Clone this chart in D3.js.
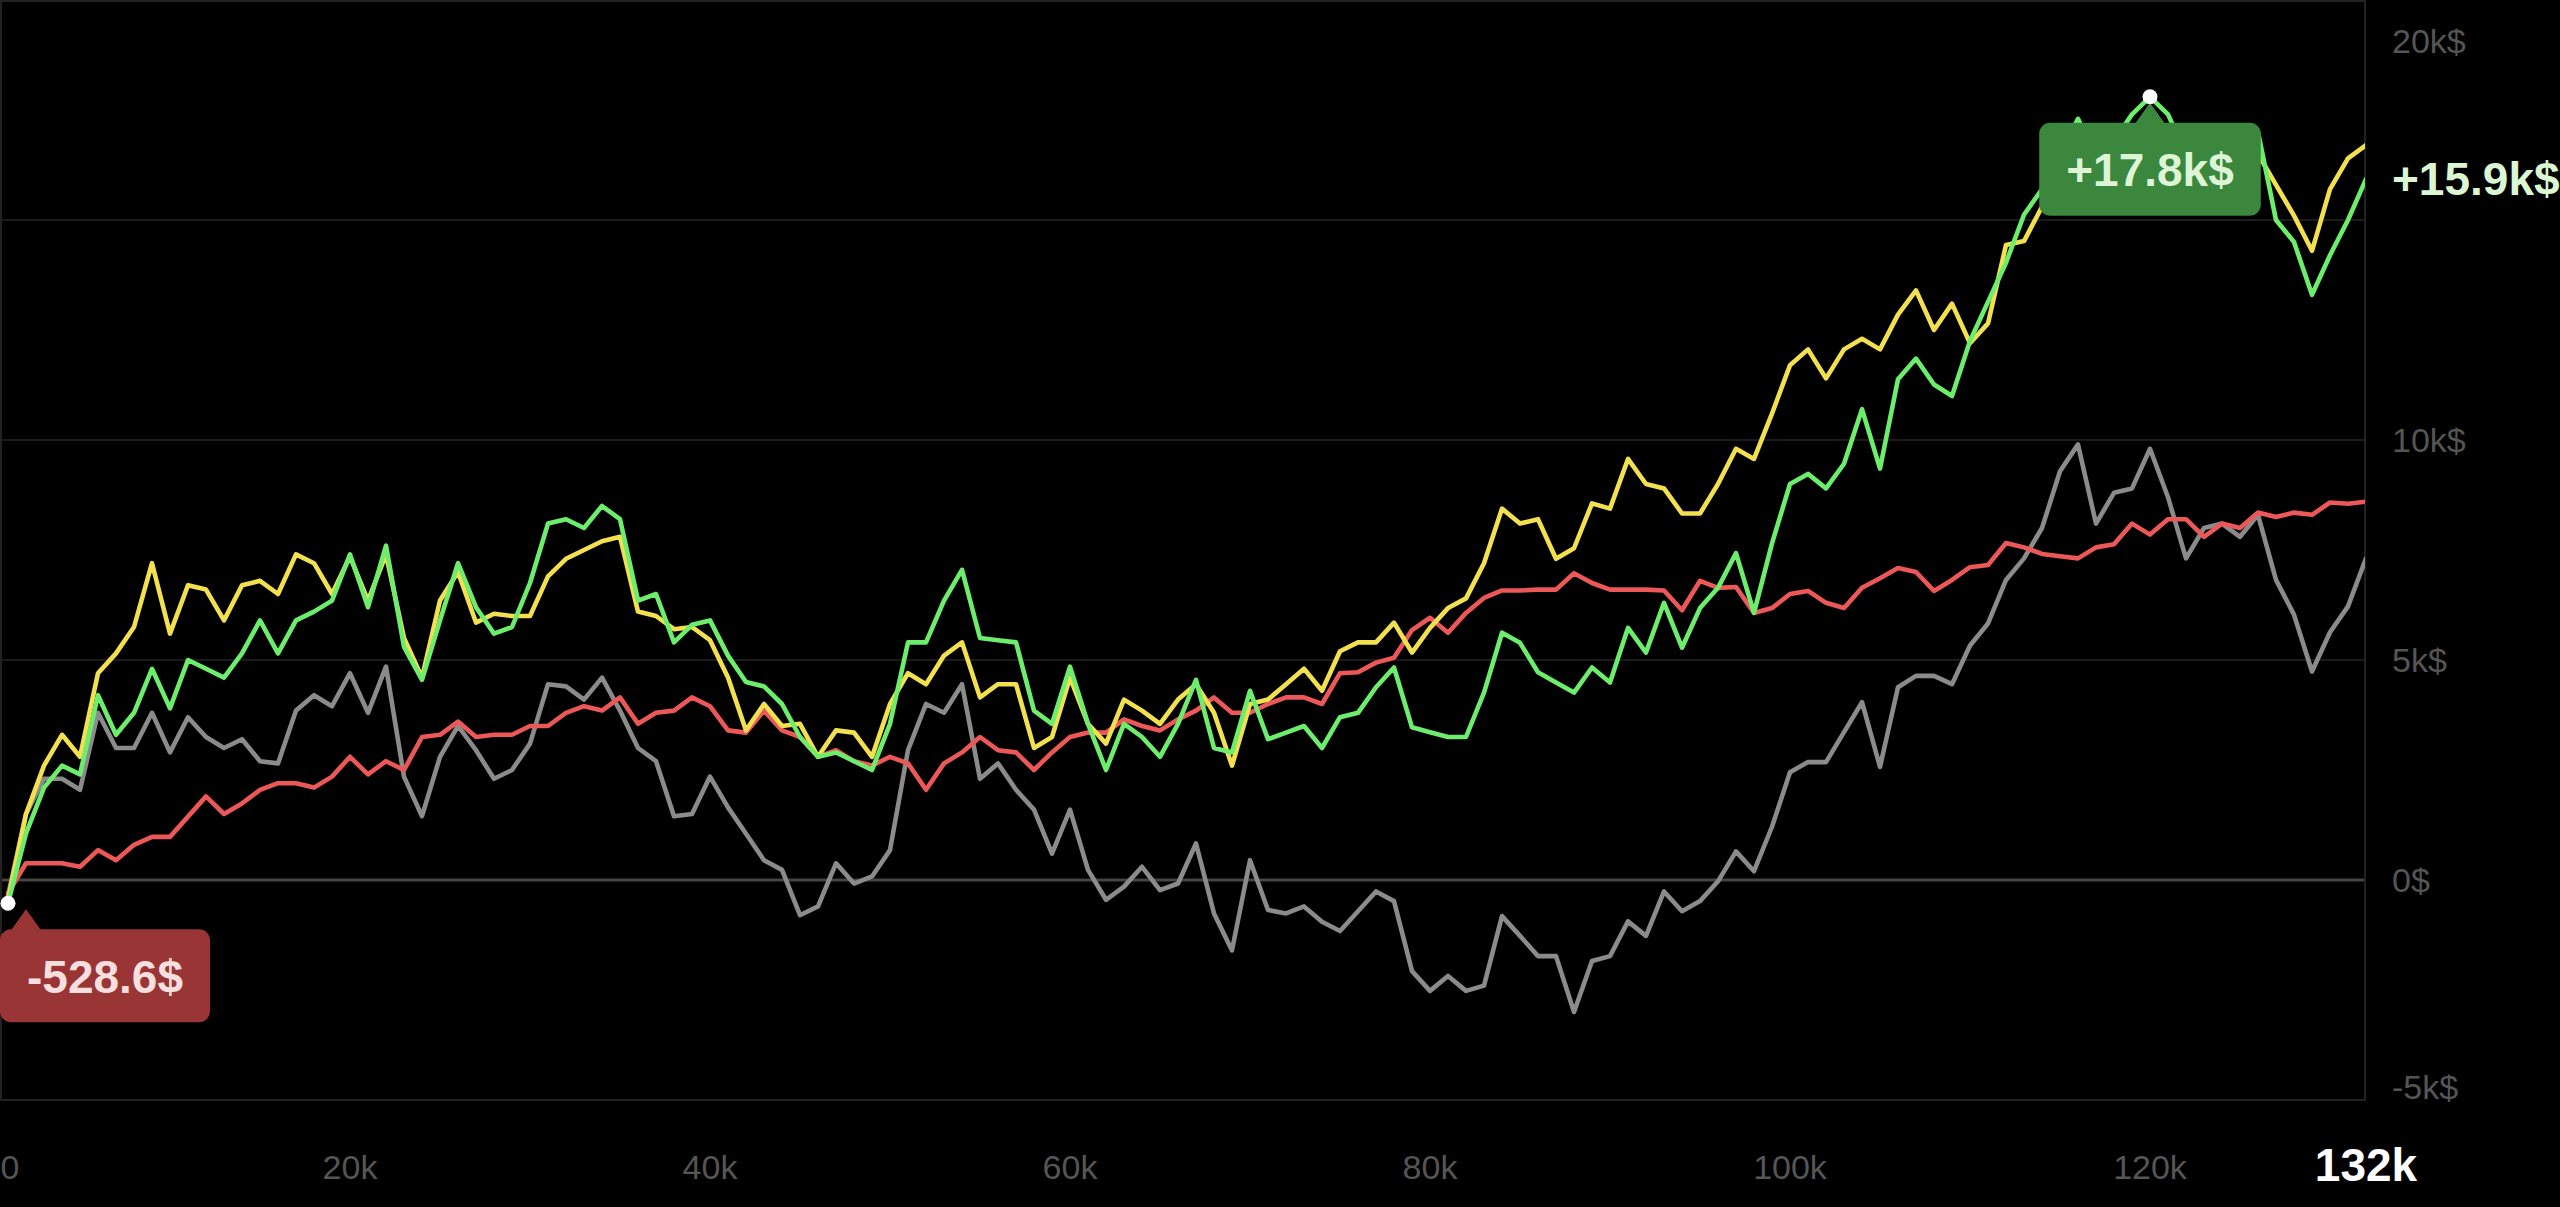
<!DOCTYPE html>
<html>
<head>
<meta charset="utf-8">
<style>
  html, body { margin: 0; padding: 0; background: #000; }
  svg { display: block; }
  text { font-family: "Liberation Sans", Arial, sans-serif; }
</style>
</head>
<body>
<div id="graf"></div>
<script src="https://cdn.jsdelivr.net/npm/d3@7"></script>
<script>
// ticks de los ejes
const xTicks = [0, 20000, 40000, 60000, 80000, 100000, 120000]
const yTicks = [-5, 0, 5, 10, 15, 20] // k$
const xFin = 132000
const paso = 1000 // un punto cada 1k

// PnL acumulado en k$, un valor por paso (1k, 2k, ... 132k)
const verde = [
  -0.5286, 1.06, 2.1, 2.6, 2.4, 4.2, 3.3, 3.8, 4.8, 3.9,
  5.0, 4.8, 4.6, 5.15, 5.9, 5.15, 5.9, 6.1, 6.35, 7.4,
  6.2, 7.6, 5.3, 4.55, 5.9, 7.2, 6.2, 5.6, 5.75, 6.75,
  8.1, 8.2, 8.0, 8.5, 8.2, 6.35, 6.5, 5.4, 5.8, 5.9,
  5.1, 4.5, 4.4, 4.0, 3.25, 2.8, 2.9, 2.7, 2.5, 3.55,
  5.4, 5.4, 6.35, 7.05, 5.5, 5.45, 5.4, 3.85, 3.55, 4.85,
  3.55, 2.5, 3.55, 3.25, 2.8, 3.55, 4.55, 3.0, 2.9, 4.3,
  3.2, 3.35, 3.5, 3.0, 3.7, 3.8, 4.38, 4.83, 3.47, 3.36,
  3.25, 3.25, 4.26, 5.62, 5.39, 4.72, 4.49, 4.26, 4.83, 4.49,
  5.73, 5.17, 6.3, 5.28, 6.18, 6.64, 7.43, 6.07, 7.65, 9.0,
  9.23, 8.9, 9.46, 10.7, 9.35, 11.38, 11.85, 11.26, 11.0, 12.25,
  13.14, 14.03, 15.12, 15.7, 16.5, 17.3, 16.4, 16.8, 17.4, 17.8,
  17.4, 16.5, 16.0, 16.3, 16.8, 17.0, 15.0, 14.5, 13.3, 14.2,
  15.0, 15.93,
]
const amarillo = [
  -0.45, 1.5, 2.6, 3.3, 2.8, 4.7, 5.15, 5.75, 7.2, 5.6,
  6.7, 6.6, 5.9, 6.7, 6.8, 6.5, 7.4, 7.2, 6.5, 7.35,
  6.35, 7.4, 5.5, 4.6, 6.35, 7.0, 5.85, 6.05, 6.0, 6.0,
  6.9, 7.3, 7.5, 7.7, 7.8, 6.1, 6.0, 5.7, 5.75, 5.45,
  4.6, 3.4, 4.0, 3.5, 3.55, 2.8, 3.4, 3.35, 2.8, 4.0,
  4.7, 4.45, 5.1, 5.4, 4.15, 4.45, 4.45, 3.0, 3.25, 4.6,
  3.55, 3.1, 4.1, 3.85, 3.55, 4.1, 4.45, 3.8, 2.6, 4.0,
  4.1, 4.45, 4.8, 4.3, 5.2, 5.4, 5.4, 5.85, 5.17, 5.73,
  6.18, 6.4, 7.2, 8.44, 8.1, 8.2, 7.3, 7.54, 8.56, 8.44,
  9.57, 9.0, 8.9, 8.33, 8.33, 9.0, 9.8, 9.57, 10.6, 11.7,
  12.06, 11.4, 12.06, 12.3, 12.06, 12.85, 13.4, 12.5, 13.1, 12.2,
  12.65, 14.43, 14.52, 15.3, 16.0, 16.5, 16.3, 16.5, 16.8, 16.9,
  16.5, 15.6, 15.2, 15.8, 16.3, 16.5, 15.8, 15.1, 14.3, 15.7,
  16.4, 16.7,
]
const gris = [
  -0.35, 1.5, 2.3, 2.3, 2.05, 3.8, 3.0, 3.0, 3.8, 2.9,
  3.7, 3.25, 3.0, 3.2, 2.7, 2.65, 3.85, 4.2, 3.95, 4.7,
  3.8, 4.85, 2.35, 1.45, 2.8, 3.5, 2.95, 2.3, 2.5, 3.1,
  4.45, 4.4, 4.1, 4.6, 3.85, 3.0, 2.7, 1.45, 1.5, 2.35,
  1.65, 1.05, 0.45, 0.23, -0.8, -0.6, 0.38, -0.08, 0.08, 0.68,
  2.95, 4.0, 3.8, 4.45, 2.3, 2.65, 2.05, 1.6, 0.6, 1.6,
  0.23, -0.45, -0.15, 0.3, -0.23, -0.08, 0.83, -0.76, -1.6, 0.45,
  -0.68, -0.76, -0.6, -0.95, -1.16, -0.71, -0.26, -0.48, -2.07, -2.52,
  -2.18, -2.52, -2.4, -0.82, -1.27, -1.73, -1.73, -3.0, -1.84, -1.73,
  -0.94, -1.27, -0.26, -0.71, -0.48, -0.03, 0.65, 0.2, 1.21, 2.45,
  2.68, 2.68, 3.36, 4.04, 2.57, 4.38, 4.64, 4.64, 4.45, 5.33,
  5.83, 6.82, 7.31, 8.0, 9.29, 9.9, 8.1, 8.8, 8.9, 9.8,
  8.7, 7.31, 8.0, 8.1, 7.8, 8.3, 6.82, 6.03, 4.74, 5.63,
  6.22, 7.31,
]
const rojo = [
  -0.3, 0.38, 0.38, 0.38, 0.3, 0.68, 0.45, 0.8, 0.98, 0.98,
  1.44, 1.9, 1.5, 1.74, 2.05, 2.2, 2.2, 2.1, 2.35, 2.8,
  2.4, 2.7, 2.5, 3.25, 3.3, 3.6, 3.25, 3.3, 3.3, 3.5,
  3.5, 3.8, 3.95, 3.85, 4.15, 3.55, 3.8, 3.85, 4.15, 3.95,
  3.4, 3.35, 3.85, 3.4, 3.25, 2.8, 2.95, 2.7, 2.6, 2.8,
  2.65, 2.05, 2.65, 2.9, 3.25, 2.95, 2.9, 2.5, 2.9, 3.25,
  3.35, 3.35, 3.65, 3.5, 3.4, 3.65, 3.85, 4.15, 3.8, 3.8,
  4.0, 4.15, 4.15, 4.0, 4.7, 4.72, 4.94, 5.05, 5.68, 5.96,
  5.62, 6.07, 6.41, 6.58, 6.58, 6.6, 6.6, 6.97, 6.75, 6.6,
  6.6, 6.6, 6.58, 6.13, 6.8, 6.64, 6.66, 6.07, 6.18, 6.5,
  6.57, 6.3, 6.18, 6.64, 6.86, 7.09, 7.0, 6.57, 6.82, 7.11,
  7.16, 7.66, 7.56, 7.41, 7.36, 7.31, 7.56, 7.63, 8.1, 7.85,
  8.2, 8.2, 7.8, 8.1, 8.0, 8.35, 8.25, 8.35, 8.3, 8.58,
  8.55, 8.6,
]

const series = [
  { nombre: "gris", valores: gris, color: "#8b8b8b" },
  { nombre: "rojo", valores: rojo, color: "#ec5757" },
  { nombre: "amarillo", valores: amarillo, color: "#f3e04f" },
  { nombre: "verde", valores: verde, color: "#6cee6c" },
]

const anchoTotal = 2560
const altoTotal = 1207
const plot = { izq: 0, der: 2365, arr: 0, aba: 1100 }

const svg = d3
  .select("#graf")
  .append("svg")
  .attr("width", anchoTotal)
  .attr("height", altoTotal)
  .style("background", "#000")

const x = d3.scaleLinear().domain([0, xFin]).range([-10, 2366])
const y = d3.scaleLinear().domain([-5, 20]).range([plot.aba, plot.arr])

const fmtPnl = (v) => {
  const signo = v > 0 ? "+" : v < 0 ? "-" : ""
  const a = Math.abs(v)
  return a >= 1 ? signo + a.toFixed(1) + "k$" : signo + (a * 1000).toFixed(1) + "$"
}

// rejilla horizontal
svg
  .append("g")
  .selectAll("line")
  .data(yTicks)
  .enter()
  .append("line")
  .attr("x1", plot.izq)
  .attr("x2", plot.der)
  .attr("y1", (d) => y(d))
  .attr("y2", (d) => y(d))
  .attr("stroke", (d) => (d === 0 ? "#454545" : "#1b1b1b"))
  .attr("stroke-width", (d) => (d === 0 ? 3 : 2))

// borde del área
svg
  .append("rect")
  .attr("x", plot.izq + 1)
  .attr("y", plot.arr + 1)
  .attr("width", plot.der - plot.izq - 1)
  .attr("height", plot.aba - plot.arr - 1)
  .attr("fill", "none")
  .attr("stroke", "#222")
  .attr("stroke-width", 2)

svg
  .append("clipPath")
  .attr("id", "clip")
  .append("rect")
  .attr("x", plot.izq)
  .attr("y", plot.arr - 20)
  .attr("width", plot.der - plot.izq)
  .attr("height", plot.aba - plot.arr + 20)

const linea = d3
  .line()
  .x((d, i) => x((i + 1) * paso))
  .y((d) => y(d))

svg
  .append("g")
  .attr("clip-path", "url(#clip)")
  .selectAll("path")
  .data(series)
  .enter()
  .append("path")
  .attr("d", (d) => linea(d.valores))
  .attr("fill", "none")
  .attr("stroke", (d) => d.color)
  .attr("stroke-width", 4.6)
  .attr("stroke-linejoin", "round")
  .attr("stroke-linecap", "round")

// etiquetas eje y
const ultimo = verde[verde.length - 1]
const yUltimo = y(ultimo)

svg
  .append("g")
  .selectAll("text")
  .data(yTicks.filter((t) => Math.abs(y(t) - yUltimo) > 48))
  .enter()
  .append("text")
  .attr("x", 2392)
  .attr("y", (d) => Math.min(Math.max(y(d), 41), 1087))
  .attr("dominant-baseline", "central")
  .attr("fill", "#555")
  .attr("font-size", 34)
  .text((d) => (d === 0 ? "0$" : d + "k$"))

svg
  .append("text")
  .attr("x", 2392)
  .attr("y", yUltimo)
  .attr("dominant-baseline", "central")
  .attr("fill", "#dcf6d3")
  .attr("font-size", 46)
  .attr("font-weight", "bold")
  .text(fmtPnl(ultimo))

// etiquetas eje x
svg
  .append("g")
  .selectAll("text")
  .data(xTicks)
  .enter()
  .append("text")
  .attr("x", (d) => Math.max(x(d), 10))
  .attr("y", 1167)
  .attr("text-anchor", "middle")
  .attr("dominant-baseline", "central")
  .attr("fill", "#555")
  .attr("font-size", 34)
  .text((d) => (d === 0 ? "0" : d / 1000 + "k"))

svg
  .append("text")
  .attr("x", x(xFin))
  .attr("y", 1165)
  .attr("text-anchor", "middle")
  .attr("dominant-baseline", "central")
  .attr("fill", "#fff")
  .attr("font-size", 46)
  .attr("font-weight", "bold")
  .text(xFin / 1000 + "k")

// globos de máximo y mínimo
const globo = (i, fondo, colorTexto) => {
  const cx = x((i + 1) * paso)
  const cy = y(verde[i])
  const g = svg.append("g")
  const caja = g.append("rect")
  const pico = g.append("path")
  const t = g
    .append("text")
    .attr("text-anchor", "middle")
    .attr("dominant-baseline", "central")
    .attr("fill", colorTexto)
    .attr("font-size", 46)
    .attr("font-weight", "bold")
    .text(fmtPnl(verde[i]))
  const w = t.node().getComputedTextLength() + 54
  const h = 93
  const bx = Math.min(Math.max(cx - w / 2, 0), plot.der - w)
  const by = cy + 26
  const px = Math.min(Math.max(cx, bx + 26), bx + w - 26)
  caja
    .attr("x", bx)
    .attr("y", by)
    .attr("width", w)
    .attr("height", h)
    .attr("rx", 11)
    .attr("fill", fondo)
  pico
    .attr("d", `M${px - 15},${by + 1} L${px},${cy + 6} L${px + 15},${by + 1} Z`)
    .attr("fill", fondo)
  t.attr("x", bx + w / 2).attr("y", by + h / 2 + 1)
  svg
    .append("circle")
    .attr("cx", cx)
    .attr("cy", cy)
    .attr("r", 7.5)
    .attr("fill", "#fff")
}

globo(d3.maxIndex(verde), "#3a873d", "#ddf5d6")
globo(d3.minIndex(verde), "#9a3535", "#f8dfdf")
</script>
</body>
</html>
